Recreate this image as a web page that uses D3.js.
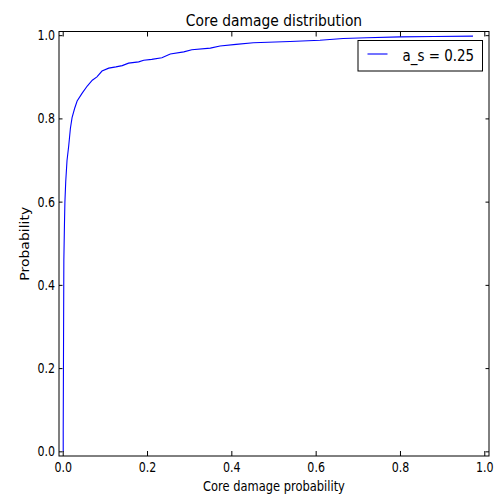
<!DOCTYPE html>
<html><head>
<meta charset="utf-8">
<script src="https://d3js.org/d3.v7.min.js"></script>
<style>
  body { margin: 0; background: #fff; }
  text { font-family: "DejaVu Sans", sans-serif; fill: #000; }
</style>
</head>
<body>
<svg id="chart" width="502" height="496"></svg>
<script>
  // CDF of core damage probability
  const cdfX = [0.0, 0.0, 0.0015, 0.003, 0.004, 0.006, 0.009, 0.013, 0.017, 0.021, 0.027, 0.033, 0.045, 0.057,
                0.069, 0.080, 0.092, 0.108, 0.125, 0.140, 0.155, 0.179, 0.191, 0.210, 0.234, 0.254, 0.286,
                0.305, 0.349, 0.372, 0.410, 0.451, 0.538, 0.609, 0.664, 0.720, 0.799, 0.880, 0.972];
  const cdfY = [0.0, 0.05, 0.46, 0.55, 0.60, 0.65, 0.70, 0.735, 0.777, 0.803, 0.825, 0.843, 0.862, 0.879,
                0.893, 0.901, 0.915, 0.922, 0.925, 0.928, 0.934, 0.937, 0.941, 0.943, 0.947, 0.956, 0.961,
                0.966, 0.970, 0.975, 0.979, 0.983, 0.986, 0.989, 0.993, 0.995, 0.997, 0.998, 0.999];
  const xTicks = [0, 0.2, 0.4, 0.6, 0.8, 1.0];
  const yTicks = [0, 0.2, 0.4, 0.6, 0.8, 1.0];
  const seriesName = "a_s = 0.25";

  const svg = d3.select("svg#chart");
  const margins = {"top": 31.5, "right": 13, "bottom": 40, "left": 59};
  const chartWidth = 502 - margins.left - margins.right;
  const chartHeight = 496 - margins.top - margins.bottom;
  const sx = 0.82; // the picture is squeezed sideways

  const xScale = d3.scaleLinear().domain([-0.01, 1.01]).range([0, chartWidth]);
  const yScale = d3.scaleLinear().domain([-0.01, 1.01]).range([chartHeight, 0]);

  const plot = svg.append("g").attr("transform", "translate(" + margins.left + "," + margins.top + ")");

  // helper for squeezed text
  function label(parent, x, y, str, size, anchor, k, rot) {
    return parent.append("text")
      .attr("transform", "translate(" + x + "," + y + ")" + (rot ? " rotate(" + rot + ") scale(1," + k + ")" : " scale(" + k + ",1)"))
      .attr("text-anchor", anchor)
      .style("font-size", size + "px")
      .text(str);
  }

  // curve
  const pts = cdfX.map((x, i) => [x, cdfY[i]]);
  plot.append("path")
    .datum(pts)
    .attr("fill", "none")
    .attr("stroke", "#0000ff")
    .attr("stroke-width", 1.1)
    .attr("d", d3.line().x(d => xScale(d[0])).y(d => yScale(d[1])));

  // ticks pointing inward on all four sides
  const fmt = d3.format(".1f");
  xTicks.forEach(t => {
    const x = xScale(t);
    plot.append("line").attr("x1", x).attr("x2", x).attr("y1", chartHeight).attr("y2", chartHeight - 5).attr("stroke", "#000");
    plot.append("line").attr("x1", x).attr("x2", x).attr("y1", 0).attr("y2", 5).attr("stroke", "#000");
    label(plot, x, chartHeight + 16, fmt(t), 13.5, "middle", sx);
  });
  yTicks.forEach(t => {
    const y = yScale(t);
    plot.append("line").attr("x1", 0).attr("x2", 3.5).attr("y1", y).attr("y2", y).attr("stroke", "#000");
    plot.append("line").attr("x1", chartWidth).attr("x2", chartWidth - 3.5).attr("y1", y).attr("y2", y).attr("stroke", "#000");
    label(plot, -4, y + 4.5, fmt(t), 13.5, "end", sx);
  });

  // frame
  plot.append("rect")
    .attr("x", 0).attr("y", 0)
    .attr("width", chartWidth).attr("height", chartHeight)
    .attr("fill", "none").attr("stroke", "#000").attr("stroke-width", 1);

  // legend
  const legend = plot.append("g").attr("transform", "translate(" + (358 - margins.left) + "," + (40.5 - margins.top) + ")");
  legend.append("rect").attr("width", 124.5).attr("height", 30.5)
    .attr("fill", "#fff").attr("stroke", "#000").attr("stroke-width", 1);
  legend.append("line").attr("x1", 9.5).attr("x2", 29.5).attr("y1", 13.5).attr("y2", 13.5)
    .attr("stroke", "#0000ff").attr("stroke-width", 1.1);
  label(legend, 44.5, 20, seriesName, 16, "start", 0.84);

  // titles
  label(svg, margins.left + chartWidth / 2, 25.5, "Core damage distribution", 16.5, "middle", 0.84);
  label(svg, margins.left + chartWidth / 2, 491, "Core damage probability", 13.5, "middle", 0.85);
  label(svg, 28.5, margins.top + chartHeight / 2, "Probability", 14, "middle", 0.82, -90);
</script>
</body></html>
